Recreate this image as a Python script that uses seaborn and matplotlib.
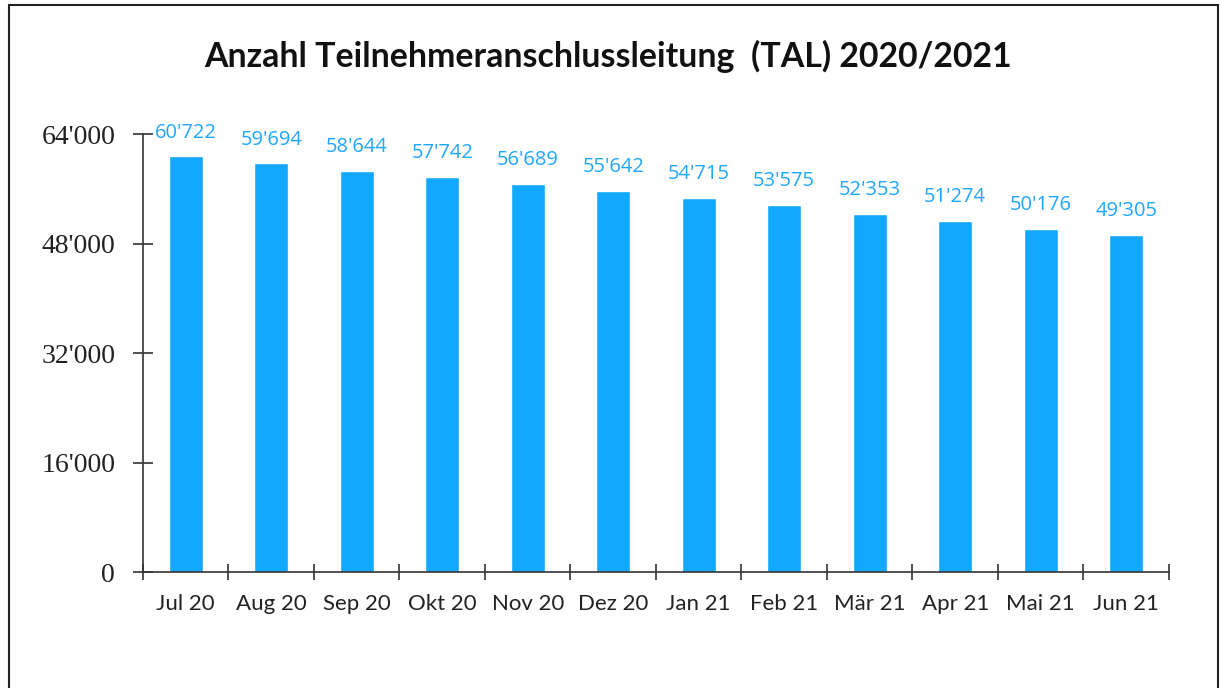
import matplotlib
matplotlib.use("Agg")
import matplotlib.pyplot as plt
import seaborn as sns
import numpy as np
import pandas as pd
from matplotlib.patches import Rectangle
from matplotlib.ticker import FixedLocator, FuncFormatter

# Daten
monate = ['Jul 20', 'Aug 20', 'Sep 20', 'Okt 20', 'Nov 20', 'Dez 20',
          'Jan 21', 'Feb 21', 'Mär 21', 'Apr 21', 'Mai 21', 'Jun 21']
anzahl = [60722, 59694, 58644, 57742, 56689, 55642,
          54715, 53575, 52353, 51274, 50176, 49305]
y_ticks = [0, 16000, 32000, 48000, 64000]

df = pd.DataFrame({'monat': monate, 'anzahl': anzahl})

sns.set_style('white')
plt.rcParams['font.family'] = ['Lato', 'DejaVu Sans']

def apo(v, pos=None):
    return f"{int(v):,}".replace(",", "'")

fig = plt.figure(figsize=(12.21, 6.88), dpi=100)
ax = fig.add_axes([0.1171, 0.1686, 0.8403, 0.6366])

bar_col = '#12A8FF'
sns.barplot(data=df, x='monat', y='anzahl', color=bar_col, width=0.4,
            saturation=1, ax=ax)

for i, v in enumerate(anzahl):
    ax.annotate(apo(v), (i, v), xytext=(0, 10), textcoords='offset points',
                ha='center', va='bottom', color='#1EA7FF', fontsize=14.5,
                family=['Open Sans', 'DejaVu Sans'])

ax.set_xlim(-0.5, len(monate) - 0.5)
ax.set_ylim(0, 64000)
ax.set_yticks(y_ticks)
ax.yaxis.set_major_formatter(FuncFormatter(apo))
for lab in ax.get_yticklabels():
    lab.set_family(['Liberation Serif', 'DejaVu Serif'])
    lab.set_fontsize(20)

ax.xaxis.set_minor_locator(FixedLocator(np.arange(-0.5, len(monate), 1.0)))
ax.tick_params(axis='x', which='major', bottom=True, length=0, pad=16,
               labelsize=16, colors='#222222')
ax.tick_params(axis='x', which='minor', bottom=True, length=12, width=1.2,
               direction='inout', color='#333333')
ax.tick_params(axis='y', left=True, length=14, width=1.2, direction='inout',
               color='#333333', labelcolor='#222222', pad=13)
ax.set_xlabel('')
ax.set_ylabel('')

for s in ['top', 'right']:
    ax.spines[s].set_visible(False)
for s in ['left', 'bottom']:
    ax.spines[s].set_color('#333333')
    ax.spines[s].set_linewidth(1.2)

fig.text(0.498, 0.918, 'Anzahl Teilnehmeranschlussleitung  (TAL) 2020/2021',
         ha='center', va='center', fontsize=24.4, fontweight='bold',
         color='#111111')

# Rahmen um die Grafik
fig.patches.append(Rectangle((9 / 1221, -0.05), (1218 - 9) / 1221,
                             1.05 - 5 / 688, transform=fig.transFigure,
                             fill=False, edgecolor='#222222', linewidth=1.5))

fig.savefig('out.png', dpi=100)
